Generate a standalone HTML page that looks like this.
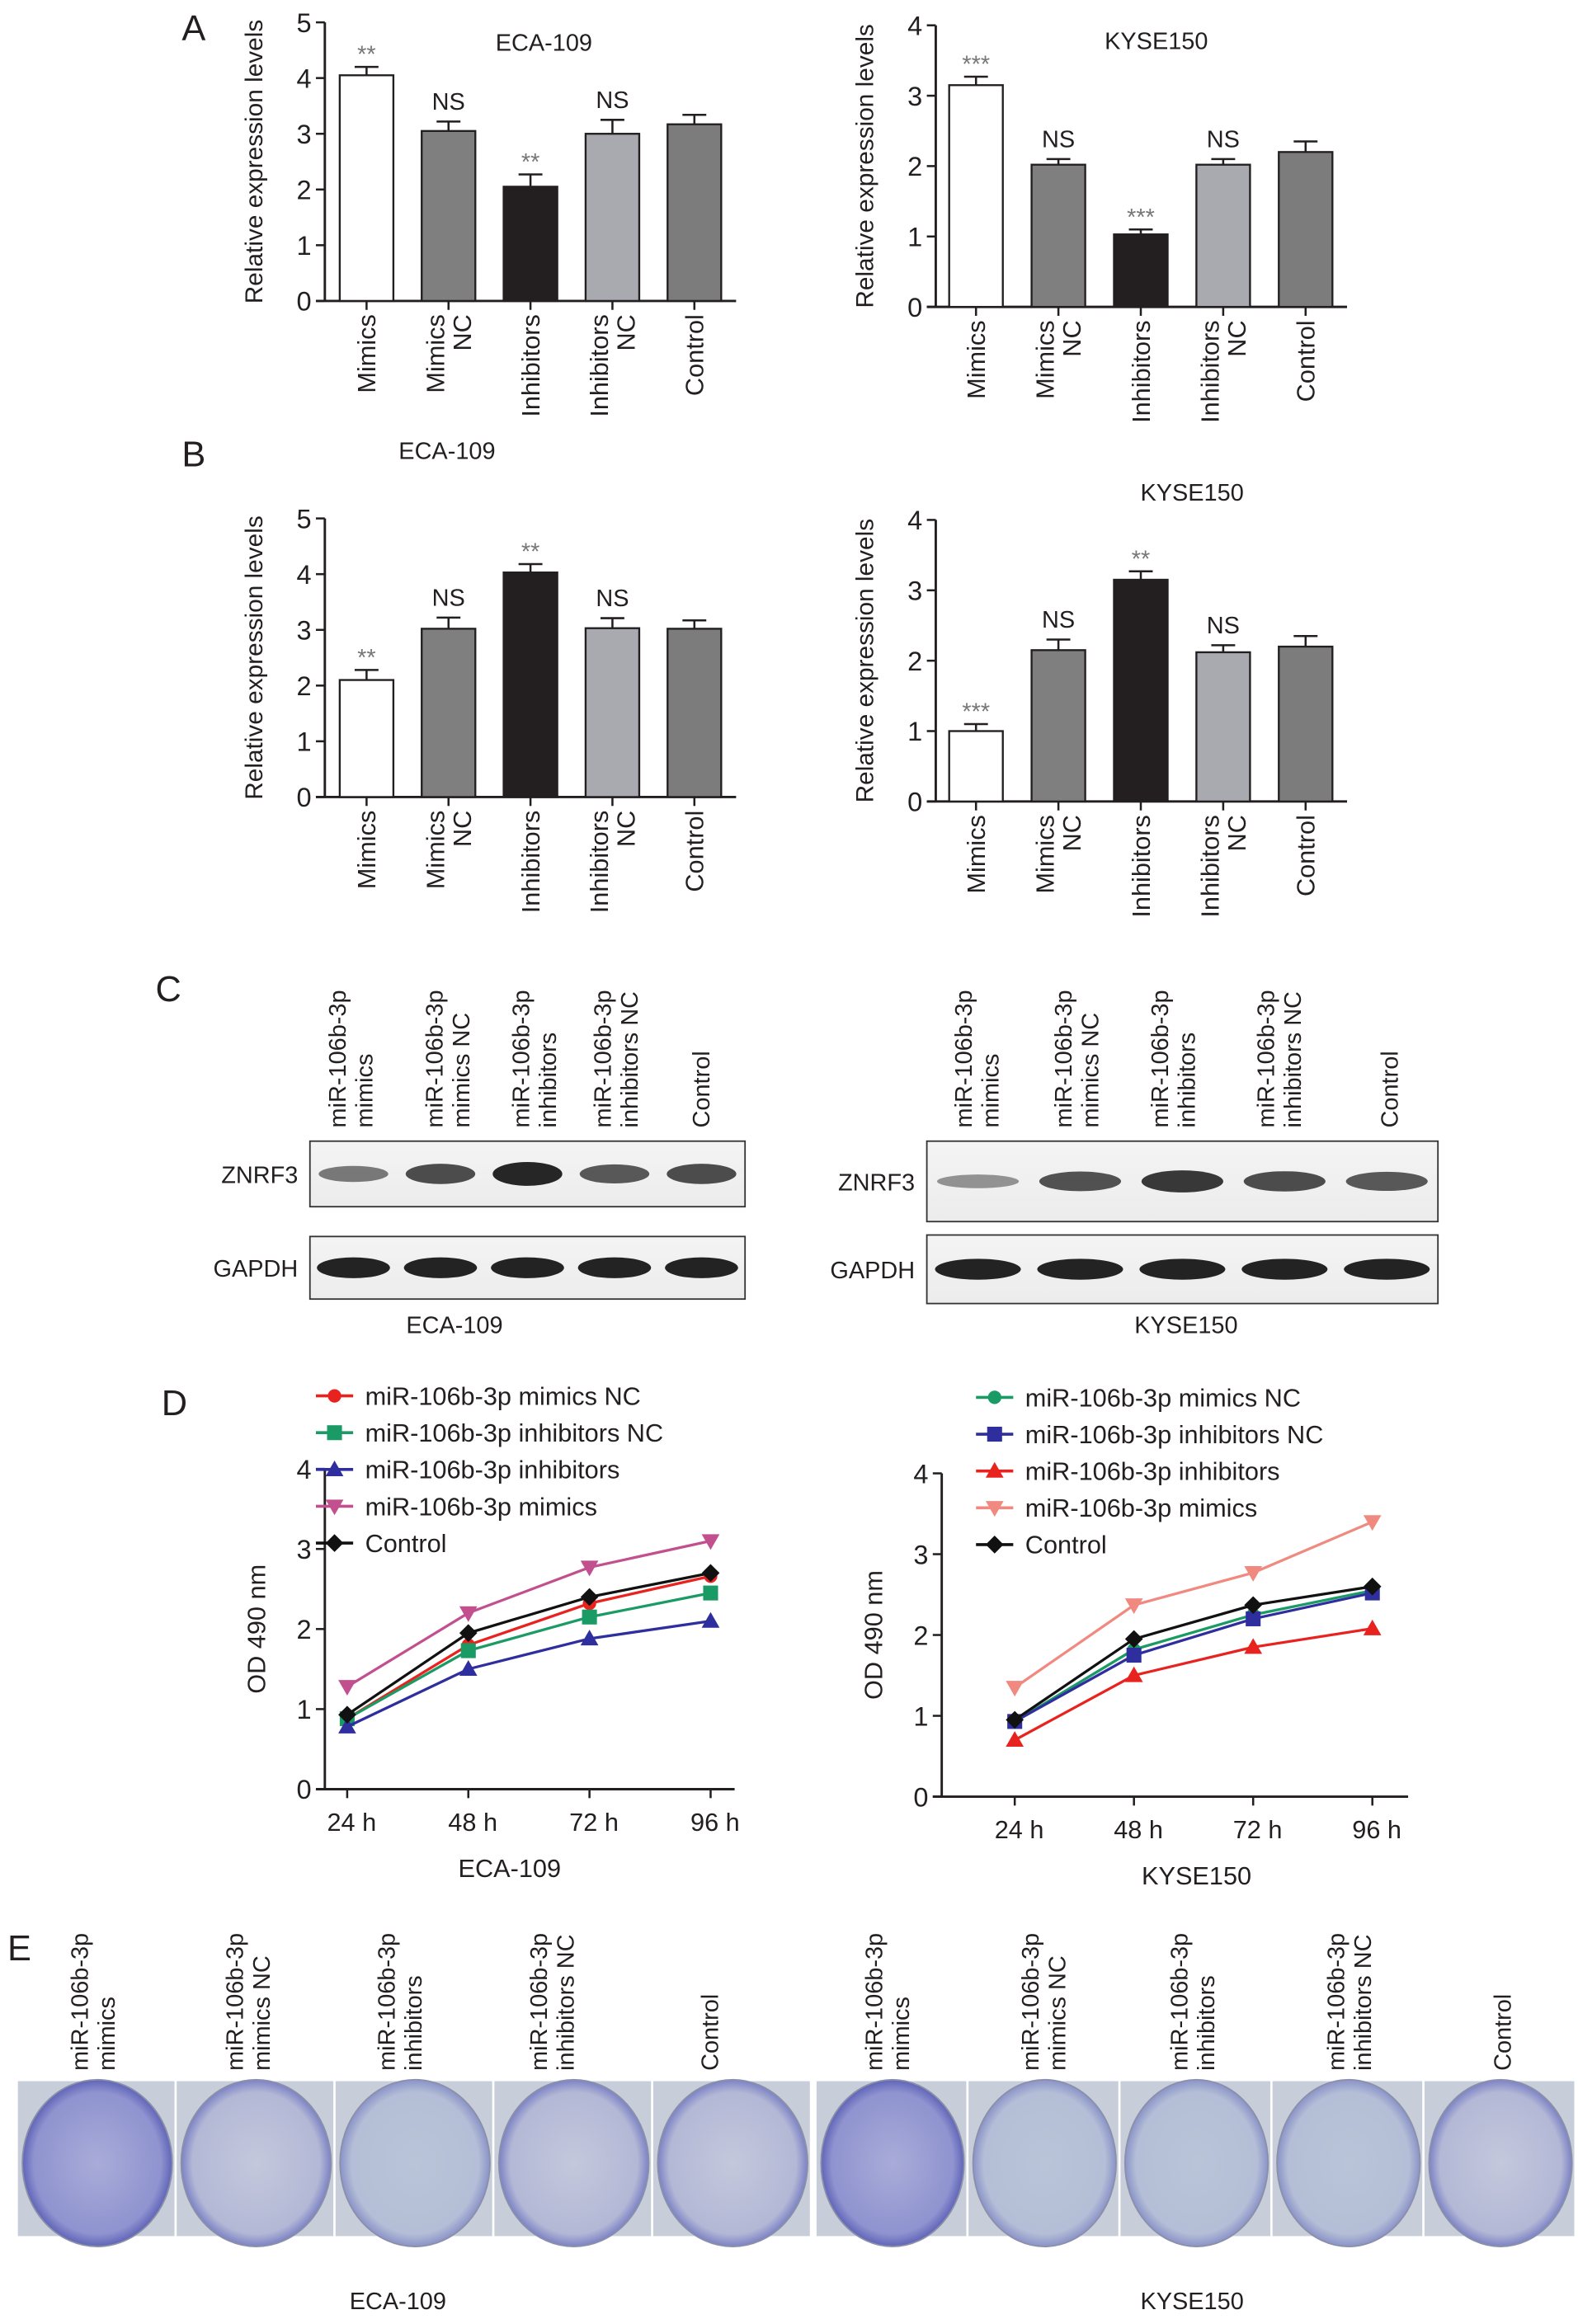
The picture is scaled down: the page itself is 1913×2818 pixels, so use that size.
<!DOCTYPE html>
<html><head><meta charset="utf-8"><style>
html,body{margin:0;padding:0;background:#fff;}
svg{display:block;}
text{font-family:"Liberation Sans",sans-serif;fill:#231f20;}
</style></head><body>
<svg id="fig" width="1913" height="2818" viewBox="0 0 1059 1560" xmlns="http://www.w3.org/2000/svg">
<defs>
<radialGradient id="gDense" cx="50%" cy="50%" r="50%"><stop offset="0%" stop-color="#a9acd8"/><stop offset="85%" stop-color="#8f93cf"/><stop offset="100%" stop-color="#6064b8"/></radialGradient>
<radialGradient id="gMid" cx="50%" cy="50%" r="50%"><stop offset="0%" stop-color="#c4c8dc"/><stop offset="85%" stop-color="#b3b8d6"/><stop offset="100%" stop-color="#7c82c4"/></radialGradient>
<radialGradient id="gLight" cx="50%" cy="50%" r="50%"><stop offset="0%" stop-color="#b9c4d8"/><stop offset="85%" stop-color="#b4bed6"/><stop offset="100%" stop-color="#8a93c8"/></radialGradient>
<linearGradient id="blot" x1="0" x2="0" y1="0" y2="1"><stop offset="0%" stop-color="#f4f4f4"/><stop offset="100%" stop-color="#ececec"/></linearGradient>
</defs>
</svg>
<script>
// ---------- Panel A/B data ----------
const barCategories = ["Mimics", "Mimics|NC", "Inhibitors", "Inhibitors|NC", "Control"];
const barColors = ["#ffffff", "#7f7f7f", "#231f20", "#a9a9b0", "#7c7c7c"];
const aEcaValues = [4.05, 3.05, 2.05, 3.0, 3.17];
const aEcaErrors = [0.15, 0.17, 0.22, 0.25, 0.17];
const aEcaSig = ["**", "NS", "**", "NS", ""];
const aKyseValues = [3.15, 2.02, 1.03, 2.02, 2.2];
const aKyseErrors = [0.12, 0.08, 0.07, 0.08, 0.15];
const aKyseSig = ["***", "NS", "***", "NS", ""];
const bEcaValues = [2.1, 3.02, 4.03, 3.03, 3.02];
const bEcaErrors = [0.18, 0.2, 0.15, 0.18, 0.15];
const bEcaSig = ["**", "NS", "**", "NS", ""];
const bKyseValues = [1.0, 2.15, 3.15, 2.12, 2.2];
const bKyseErrors = [0.1, 0.15, 0.12, 0.1, 0.15];
const bKyseSig = ["***", "NS", "**", "NS", ""];
const ecaTicks = [0, 1, 2, 3, 4, 5];
const kyseTicks = [0, 1, 2, 3, 4];

// ---------- Panel D data ----------
const timeLabels = ["24 h", "48 h", "72 h", "96 h"];
const odTicks = [0, 1, 2, 3, 4];
const ecaSeriesNames = ["miR-106b-3p mimics NC", "miR-106b-3p inhibitors NC", "miR-106b-3p inhibitors", "miR-106b-3p mimics", "Control"];
const ecaMimicsNC = [0.88, 1.8, 2.32, 2.66];
const ecaInhibNC = [0.88, 1.73, 2.15, 2.45];
const ecaInhib = [0.78, 1.5, 1.88, 2.1];
const ecaMimics = [1.28, 2.2, 2.77, 3.1];
const ecaControl = [0.93, 1.95, 2.4, 2.7];
const kyseMimicsNC = [0.93, 1.82, 2.25, 2.55];
const kyseInhibNC = [0.93, 1.75, 2.2, 2.52];
const kyseInhib = [0.7, 1.5, 1.85, 2.08];
const kyseMimics = [1.35, 2.37, 2.77, 3.4];
const kyseControl = [0.95, 1.95, 2.37, 2.6];

const blotLabels = ["miR-106b-3p|mimics", "miR-106b-3p|mimics NC", "miR-106b-3p|inhibitors", "miR-106b-3p|inhibitors NC", "Control"];

const NS = "http://www.w3.org/2000/svg";
const svg = document.getElementById("fig");
function el(tag, attrs, parent, txt) {
  const e = document.createElementNS(NS, tag);
  for (const k in attrs) e.setAttribute(k, attrs[k]);
  if (txt !== undefined) e.textContent = txt;
  (parent || svg).appendChild(e);
  return e;
}
function grp(name) {
  const g = el("g", {});
  
  
  return g;
}
function label(g, x, y, t, size, anchor, name, extra) {
  const a = Object.assign({x: x, y: y, "font-size": size, "text-anchor": anchor || "middle"}, extra || {});
  const e = el("text", a, g, t);
  
  
  return e;
}

[["A",130,27],["B",130,313],["C",113,672],["D",117,950],["E",13,1316]].forEach(p => {
  label(svg, p[1], p[2], p[0], 24, "middle", "panel-label-" + p[0].toLowerCase());
});

function barChart(name, cfg, values, errors, sig, ticks) {
  const g = grp(name);
  const x0 = cfg.ax, yb = cfg.y0, yt = cfg.yTop, maxV = ticks[ticks.length - 1];
  const yS = v => yb - (v / maxV) * (yb - yt);
  const xS = i => cfg.firstX + i * cfg.step;
  el("line", {x1: x0, y1: yt, x2: x0, y2: yb, stroke: "#231f20", "stroke-width": 1.6}, g);
  el("line", {x1: x0 - 6, y1: yb, x2: cfg.axEnd, y2: yb, stroke: "#231f20", "stroke-width": 1.6}, g);
  ticks.forEach(t => {
    el("line", {x1: x0 - 6, y1: yS(t), x2: x0, y2: yS(t), stroke: "#231f20", "stroke-width": 1.4}, g);
    label(g, x0 - 9, yS(t) + 6.5, String(t), 18, "end", "y-tick-label");
  });
  label(g, cfg.titleX, cfg.titleY, cfg.title, 16, "middle", "chart-title");
  label(g, 0, 0, "Relative expression levels", 16.5, "middle", "y-axis-title", {transform: `translate(${x0 - 42},${(yb + yt) / 2}) rotate(-90)`});
  const bw = 36;
  values.forEach((v, i) => {
    const cx = xS(i);
    const r = el("rect", {x: cx - bw / 2, y: yS(v), width: bw, height: yb - yS(v), fill: barColors[i], stroke: "#231f20", "stroke-width": 1.3}, g);
    
    
    const ye = yS(v + errors[i]);
    el("line", {x1: cx, y1: yS(v), x2: cx, y2: ye, stroke: "#231f20", "stroke-width": 1.4}, g);
    el("line", {x1: cx - 8, y1: ye, x2: cx + 8, y2: ye, stroke: "#231f20", "stroke-width": 1.4}, g);
    el("line", {x1: cx, y1: yb, x2: cx, y2: yb + 6, stroke: "#231f20", "stroke-width": 1.4}, g);
    if (sig[i]) {
      if (sig[i] === "NS") label(g, cx, ye - 8, "NS", 16, "middle", "significance-label");
      else label(g, cx, ye - 3, sig[i], 16, "middle", "significance-label", {style: "fill:#777"});
    }
    const parts = barCategories[i].split("|");
    parts.forEach((p, k) => {
      const off = (k - (parts.length - 1) / 2) * 18;
      label(g, 0, 0, p, 17, "end", "x-tick-label", {transform: `translate(${cx + off + 6},${yb + 9}) rotate(-90)`});
    });
  });
}
barChart("chart-a-eca109", {ax: 218, y0: 202, yTop: 15, firstX: 246, step: 55, axEnd: 494, title: "ECA-109", titleX: 365, titleY: 34}, aEcaValues, aEcaErrors, aEcaSig, ecaTicks);
barChart("chart-a-kyse150", {ax: 628, y0: 206, yTop: 17, firstX: 655, step: 55.3, axEnd: 904, title: "KYSE150", titleX: 776, titleY: 33}, aKyseValues, aKyseErrors, aKyseSig, kyseTicks);
barChart("chart-b-eca109", {ax: 218, y0: 535, yTop: 348, firstX: 246, step: 55, axEnd: 494, title: "ECA-109", titleX: 300, titleY: 308}, bEcaValues, bEcaErrors, bEcaSig, ecaTicks);
barChart("chart-b-kyse150", {ax: 628, y0: 538, yTop: 349, firstX: 655, step: 55.3, axEnd: 904, title: "KYSE150", titleX: 800, titleY: 336}, bKyseValues, bKyseErrors, bKyseSig, kyseTicks);

function blots(name, x, w, xs, yZ, yG, hZ, hG, caption, capX, zInt) {
  const g = grp(name);
  blotLabels.forEach((l, i) => {
    const parts = l.split("|");
    parts.forEach((p, k) => {
      label(g, 0, 0, p, 16, "start", "lane-label", {transform: `translate(${xs[i] + (k - (parts.length - 1) / 2) * 18 + 6},${757}) rotate(-90)`});
    });
  });
  el("rect", {x: x, y: yZ, width: w, height: hZ, fill: "url(#blot)", stroke: "#333", "stroke-width": 1}, g);
  el("rect", {x: x, y: yG, width: w, height: hG, fill: "url(#blot)", stroke: "#333", "stroke-width": 1}, g);
  const bw = w / 5;
  xs.forEach((cx, i) => {
    const z = el("ellipse", {cx: x + bw * (i + 0.5), cy: yZ + hZ / 2, rx: bw * 0.4, ry: 4 + zInt[i] * 4, fill: "#1a1a1a", opacity: 0.35 + zInt[i] * 0.6}, g);
    
    
    const gb = el("ellipse", {cx: x + bw * (i + 0.5), cy: yG + hG / 2, rx: bw * 0.42, ry: 7, fill: "#111", opacity: 0.92}, g);
    
    
  });
  label(g, x - 8, yZ + hZ / 2 + 6, "ZNRF3", 16, "end", "row-label-znrf3");
  label(g, x - 8, yG + hG / 2 + 6, "GAPDH", 16, "end", "row-label-gapdh");
  label(g, capX, 895, caption, 16, "middle", "blot-caption");
}
blots("blot-eca109", 208, 292, [235, 300, 358, 413, 470], 766, 830, 44, 42, "ECA-109", 305, [0.35, 0.7, 1, 0.6, 0.7]);
blots("blot-kyse150", 622, 343, [655, 722, 787, 858, 932], 766, 829, 54, 46, "KYSE150", 796, [0.15, 0.65, 0.85, 0.7, 0.6]);

function marker(g, type, x, y, c) {
  let m;
  if (type === "circle") m = el("circle", {cx: x, cy: y, r: 4.5, fill: c}, g);
  else if (type === "square") m = el("rect", {x: x - 5, y: y - 5, width: 10, height: 10, fill: c}, g);
  else if (type === "up") m = el("polygon", {points: `${x},${y - 6} ${x - 6},${y + 4.5} ${x + 6},${y + 4.5}`, fill: c}, g);
  else if (type === "down") m = el("polygon", {points: `${x},${y + 6} ${x - 6},${y - 4.5} ${x + 6},${y - 4.5}`, fill: c}, g);
  else m = el("polygon", {points: `${x},${y - 6} ${x + 6},${y} ${x},${y + 6} ${x - 6},${y}`, fill: c}, g);
  
  
}
function lineChart(name, cfg, series) {
  const g = grp(name);
  const xS = i => cfg.firstX + i * cfg.step;
  const yS = v => cfg.y0 - v / 4 * (cfg.y0 - cfg.yTop);
  el("line", {x1: cfg.ax, y1: cfg.yTop, x2: cfg.ax, y2: cfg.y0, stroke: "#231f20", "stroke-width": 1.6}, g);
  el("line", {x1: cfg.ax - 6, y1: cfg.y0, x2: cfg.axEnd, y2: cfg.y0, stroke: "#231f20", "stroke-width": 1.6}, g);
  odTicks.forEach(t => {
    el("line", {x1: cfg.ax - 6, y1: yS(t), x2: cfg.ax, y2: yS(t), stroke: "#231f20", "stroke-width": 1.4}, g);
    label(g, cfg.ax - 9, yS(t) + 6.5, String(t), 18, "end", "y-tick-label");
  });
  timeLabels.forEach((t, i) => {
    el("line", {x1: xS(i), y1: cfg.y0, x2: xS(i), y2: cfg.y0 + 6, stroke: "#231f20", "stroke-width": 1.4}, g);
    label(g, xS(i) + 3, cfg.y0 + 28, t, 17, "middle", "x-tick-label");
  });
  label(g, 0, 0, "OD 490 nm", 17, "middle", "y-axis-title", {transform: `translate(${cfg.ax - 40},${(cfg.y0 + cfg.yTop) / 2}) rotate(-90)`});
  label(g, cfg.capX, cfg.y0 + 59, cfg.caption, 17, "middle", "x-axis-title");
  series.forEach((s, k) => {
    const pts = s.values.map((v, i) => `${xS(i)},${yS(v)}`).join(" ");
    const pl = el("polyline", {points: pts, fill: "none", stroke: s.color, "stroke-width": 1.8}, g);
    
    
    s.values.forEach((v, i) => marker(g, s.marker, xS(i), yS(v), s.color));
    const ly = cfg.legY + k * 24.7;
    el("line", {x1: cfg.legX, y1: ly, x2: cfg.legX + 25, y2: ly, stroke: s.color, "stroke-width": 2}, g);
    marker(g, s.marker, cfg.legX + 12.5, ly, s.color);
    label(g, cfg.legX + 33, ly + 6, s.name, 17, "start", "legend-entry");
  });
}
lineChart("chart-d-eca109", {ax: 218, y0: 1201, yTop: 986, firstX: 233, step: 81.3, axEnd: 493, legX: 212, legY: 937, caption: "ECA-109", capX: 342}, [
  {name: ecaSeriesNames[0], values: ecaMimicsNC, color: "#e8231f", marker: "circle"},
  {name: ecaSeriesNames[1], values: ecaInhibNC, color: "#1a9a64", marker: "square"},
  {name: ecaSeriesNames[2], values: ecaInhib, color: "#2e2e9e", marker: "up"},
  {name: ecaSeriesNames[3], values: ecaMimics, color: "#c2508e", marker: "down"},
  {name: ecaSeriesNames[4], values: ecaControl, color: "#111111", marker: "diamond"}
]);
lineChart("chart-d-kyse150", {ax: 632, y0: 1206, yTop: 989, firstX: 681, step: 80, axEnd: 945, legX: 655, legY: 938, caption: "KYSE150", capX: 803}, [
  {name: ecaSeriesNames[0], values: kyseMimicsNC, color: "#1a9a64", marker: "circle"},
  {name: ecaSeriesNames[1], values: kyseInhibNC, color: "#2e2e9e", marker: "square"},
  {name: ecaSeriesNames[2], values: kyseInhib, color: "#e8231f", marker: "up"},
  {name: ecaSeriesNames[3], values: kyseMimics, color: "#f08a80", marker: "down"},
  {name: ecaSeriesNames[4], values: kyseControl, color: "#111111", marker: "diamond"}
]);

function plates(name, x0, pw, xs, fills, caption, capX) {
  const g = grp(name);
  blotLabels.forEach((l, i) => {
    const parts = l.split("|");
    parts.forEach((p, k) => {
      label(g, 0, 0, p, 16, "start", "plate-label", {transform: `translate(${xs[i] + (k - (parts.length - 1) / 2) * 18 + 6},${1390}) rotate(-90)`});
    });
    const px = x0 + i * pw;
    el("rect", {x: px, y: 1397, width: pw - 1.5, height: 104, fill: "#c7ced9"}, g);
    const c = el("ellipse", {cx: px + pw / 2, cy: 1452, rx: pw / 2 - 3, ry: 56, fill: fills[i], stroke: "#8a90a8", "stroke-width": 1}, g);
    
    
  });
  label(g, capX, 1550, caption, 16, "middle", "plate-caption");
}
plates("plates-eca109", 12, 106.6, [62, 166, 268, 370, 476], ["url(#gDense)", "url(#gMid)", "url(#gLight)", "url(#gMid)", "url(#gMid)"], "ECA-109", 267);
plates("plates-kyse150", 548, 102, [595, 700, 800, 905, 1008], ["url(#gDense)", "url(#gLight)", "url(#gLight)", "url(#gLight)", "url(#gMid)"], "KYSE150", 800);
</script>
</body></html>
